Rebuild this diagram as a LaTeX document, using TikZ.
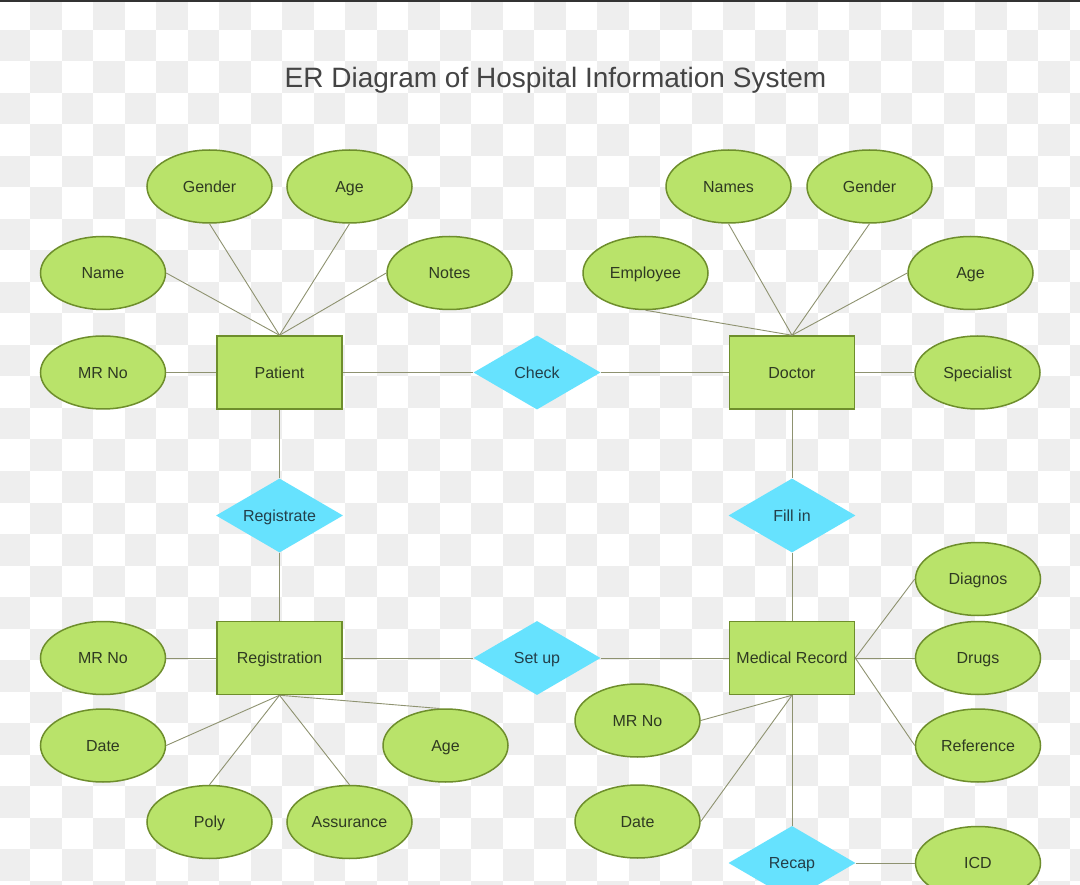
\documentclass[tikz,border=0pt]{standalone}
\usepackage{fontspec}
\setmainfont{Liberation Sans}
\usetikzlibrary{shapes.geometric}
\definecolor{attrfill}{HTML}{B9E36A}
\definecolor{attrline}{HTML}{6E8E2C}
\definecolor{relfill}{HTML}{66E2FE}
\definecolor{linkcol}{HTML}{8E9270}
\definecolor{checkgray}{HTML}{EEEEEE}
\definecolor{textcol}{HTML}{2F3A22}
\definecolor{reltext}{HTML}{233F4A}
\definecolor{titlecol}{HTML}{444444}
\begin{document}
\begin{tikzpicture}[x=1pt,y=-1pt,
  label font/.style={font=\fontsize{16}{19}\selectfont,text=textcol,
    text height=13pt,text depth=1.5pt},
  attr/.style={ellipse,draw=attrline,fill=attrfill,line width=1.5pt,
    minimum width=125pt,minimum height=73pt,inner sep=0pt,label font},
  entity/.style={rectangle,draw=attrline,fill=attrfill,line width=1.5pt,
    minimum width=125pt,minimum height=73pt,inner sep=0pt,label font},
  rel/.style={diamond,fill=relfill,aspect=1.7,minimum width=127pt,
    minimum height=74pt,inner sep=0pt,label font,text=reltext},
  link/.style={draw=linkcol,line width=0.9pt}]
\useasboundingbox (0,0) rectangle (1080,885);
\begin{scope}
\clip (0,0) rectangle (1080,885);
% checkerboard backdrop
\fill[white] (0,0) rectangle (1080,885);
\foreach \i in {0,...,34}{
  \foreach \j in {0,...,28}{
    \pgfmathtruncatemacro{\sqparity}{mod(\i+\j,2)}
    \ifnum\sqparity=1
      \fill[checkgray] ({-1.5+31.5*\i},{-1.5+31.5*\j}) rectangle ++(31.5,31.5);
    \fi
  }
}
\fill[black!80] (0,0) rectangle (1080,2);

% title
\node[font=\fontsize{28}{34}\selectfont,text=titlecol] (title) at (555.5,80)
  {ER Diagram of Hospital Information System};

% entities
\node[entity] (patient) at (279.5,372.5) {Patient};
\node[entity] (doctor) at (792,372.5) {Doctor};
\node[entity] (registration) at (279.5,658) {Registration};
\node[entity] (medrec) at (792,658) {Medical Record};

% relationships
\node[rel] (check) at (537,372.5) {Check};
\node[rel] (registrate) at (279.5,515.5) {Registrate};
\node[rel] (fillin) at (792,515.5) {Fill in};
\node[rel] (setup) at (537,658) {Set up};
\node[rel] (recap) at (792,863) {Recap};

% patient attributes
\node[attr] (pgender) at (209.5,186.5) {Gender};
\node[attr] (page) at (349.5,186.5) {Age};
\node[attr] (pname) at (103,273) {Name};
\node[attr] (pnotes) at (449.5,273) {Notes};
\node[attr] (pmrno) at (103,372.5) {MR No};

% doctor attributes
\node[attr] (dnames) at (728.5,186.5) {Names};
\node[attr] (dgender) at (869.5,186.5) {Gender};
\node[attr] (demployee) at (645.5,273) {Employee};
\node[attr] (dage) at (970.5,273) {Age};
\node[attr] (dspec) at (977.5,372.5) {Specialist};

% registration attributes
\node[attr] (rmrno) at (103,658) {MR No};
\node[attr] (rdate) at (103,745.5) {Date};
\node[attr] (rage) at (445.5,745.5) {Age};
\node[attr] (rpoly) at (209.5,822) {Poly};
\node[attr] (rassur) at (349.5,822) {Assurance};

% medical record attributes
\node[attr] (mdiag) at (978,579) {Diagnos};
\node[attr] (mdrugs) at (978,658) {Drugs};
\node[attr] (mref) at (978,745.5) {Reference};
\node[attr] (mmrno) at (637.5,720.5) {MR No};
\node[attr] (mdate) at (637.5,821.5) {Date};
\node[attr] (icd) at (978,863) {ICD};

% connectors
\draw[link] (patient.north) -- (pgender.south);
\draw[link] (patient.north) -- (page.south);
\draw[link] (patient.north) -- (pname.east);
\draw[link] (patient.north) -- (pnotes.west);
\draw[link] (pmrno.east) -- (patient.west);
\draw[link] (patient.east) -- (check.west);
\draw[link] (check.east) -- (doctor.west);

\draw[link] (doctor.north) -- (dnames.south);
\draw[link] (doctor.north) -- (dgender.south);
\draw[link] (doctor.north) -- (dage.west);
\draw[link] (doctor.north) -- (demployee.south);
\draw[link] (doctor.east) -- (dspec.west);

\draw[link] (patient.south) -- (registrate.north);
\draw[link] (registrate.south) -- (registration.north);
\draw[link] (doctor.south) -- (fillin.north);
\draw[link] (fillin.south) -- (medrec.north);

\draw[link] (rmrno.east) -- (registration.west);
\draw[link] (registration.east) -- (setup.west);
\draw[link] (setup.east) -- (medrec.west);

\draw[link] (registration.south) -- (rdate.east);
\draw[link] (registration.south) -- (rpoly.north);
\draw[link] (registration.south) -- (rassur.north);
\draw[link] (registration.south) -- (rage.100);

\draw[link] (medrec.east) -- (mdiag.west);
\draw[link] (medrec.east) -- (mdrugs.west);
\draw[link] (medrec.east) -- (mref.west);
\draw[link] (medrec.south) -- (mmrno.east);
\draw[link] (medrec.south) -- (mdate.east);
\draw[link] (medrec.south) -- (recap.north);
\draw[link] (recap.east) -- (icd.west);
\end{scope}
\end{tikzpicture}
\end{document}
